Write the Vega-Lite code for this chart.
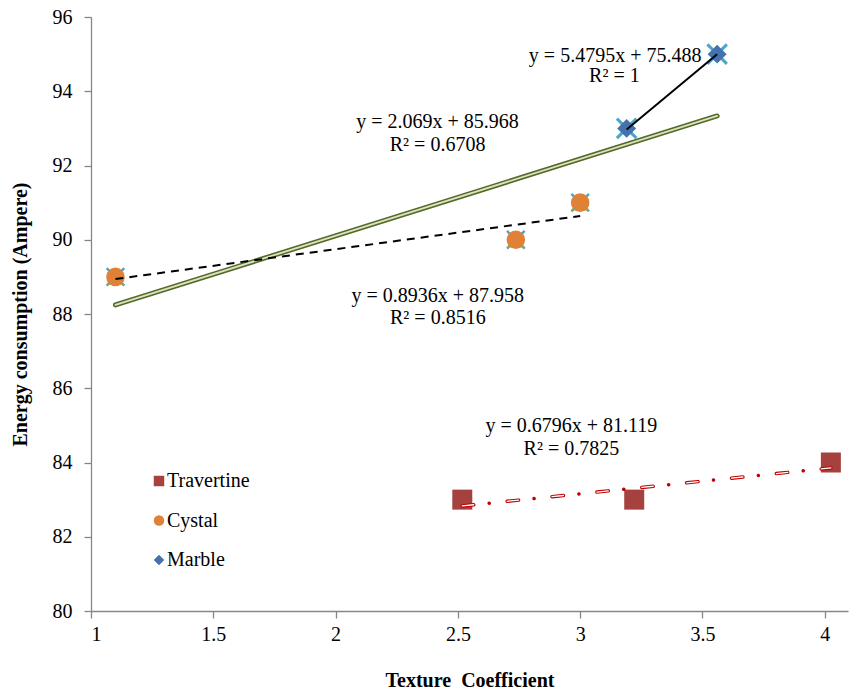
{
  "$schema": "https://vega.github.io/schema/vega-lite/v6.json",
  "width": 757,
  "height": 594,
  "autosize": {"type": "none"},
  "padding": {"left": 91, "top": 17, "right": 13, "bottom": 80},
  "background": "white",
  "config": {
    "view": {"stroke": null},
    "font": "Liberation Serif",
    "style": {
      "guide-label": {"font": "Liberation Serif", "fontSize": 20, "fill": "#000000"},
      "guide-title": {"font": "Liberation Serif", "fontSize": 20, "fontWeight": "bold", "fill": "#000000"}
    },
    "axis": {
      "grid": false,
      "domainColor": "#878787",
      "domainWidth": 1.3,
      "tickColor": "#878787",
      "tickWidth": 1.3,
      "tickSize": 7,
      "labelFont": "Liberation Serif",
      "labelFontSize": 20,
      "labelColor": "#000000",
      "titleFont": "Liberation Serif",
      "titleFontSize": 20,
      "titleFontWeight": "bold",
      "titleColor": "#000000"
    },
    "legend": {
      "labelFont": "Liberation Serif",
      "labelFontSize": 20,
      "labelColor": "#000000"
    }
  },
  "datasets": {
    "points": [
      {"series": "Travertine", "x": 2.518, "y": 83},
      {"series": "Travertine", "x": 3.221, "y": 83},
      {"series": "Travertine", "x": 4.025, "y": 84},
      {"series": "Cystal", "x": 1.1, "y": 89},
      {"series": "Cystal", "x": 2.737, "y": 90},
      {"series": "Cystal", "x": 3.0, "y": 91},
      {"series": "Marble", "x": 3.19, "y": 93},
      {"series": "Marble", "x": 3.56, "y": 95}
    ],
    "hidden": [
      {"kind": "xc", "x": 1.1, "y": 89},
      {"kind": "xc", "x": 2.737, "y": 90},
      {"kind": "xc", "x": 3.0, "y": 91},
      {"kind": "xm", "x": 3.19, "y": 93},
      {"kind": "xm", "x": 3.56, "y": 95},
      {"kind": "tri", "x": 1.1, "y": 89},
      {"kind": "tri", "x": 2.737, "y": 90},
      {"kind": "tri", "x": 3.0, "y": 91}
    ],
    "trends": [
      {"id": "overall", "x": 1.1, "y": 88.244},
      {"id": "overall", "x": 3.56, "y": 93.334},
      {"id": "cystal", "x": 1.1, "y": 88.941},
      {"id": "cystal", "x": 3.0, "y": 90.639},
      {"id": "marble", "x": 3.19, "y": 92.968},
      {"id": "marble", "x": 3.56, "y": 94.995},
      {"id": "travertine", "x": 2.518, "y": 82.83},
      {"id": "travertine", "x": 4.025, "y": 83.854}
    ],
    "labels": [
      {"text": "y = 5.4795x + 75.488", "x": 3.143, "y": 94.96},
      {"text": "R² = 1", "x": 3.14, "y": 94.42},
      {"text": "y = 2.069x + 85.968", "x": 2.417, "y": 93.16},
      {"text": "R² = 0.6708", "x": 2.417, "y": 92.56},
      {"text": "y = 0.8936x + 87.958", "x": 2.418, "y": 88.485},
      {"text": "R² = 0.8516", "x": 2.418, "y": 87.89},
      {"text": "y = 0.6796x + 81.119", "x": 2.964, "y": 84.99},
      {"text": "R² = 0.7825", "x": 2.964, "y": 84.355}
    ]
  },
  "encoding": {
    "x": {
      "field": "x",
      "type": "quantitative",
      "scale": {"domain": [1, 4.095], "nice": false, "zero": false},
      "axis": {
        "values": [1, 1.5, 2, 2.5, 3, 3.5, 4],
        "format": "~g",
        "labelFont": "Liberation Serif",
        "labelFontSize": 20,
        "labelPadding": 6,
        "title": "Texture \u00a0Coefficient",
        "titlePadding": 26
      }
    },
    "y": {
      "field": "y",
      "type": "quantitative",
      "scale": {"domain": [80, 96], "nice": false, "zero": false},
      "axis": {
        "values": [80, 82, 84, 86, 88, 90, 92, 94, 96],
        "format": "d",
        "labelFont": "Liberation Serif",
        "labelFontSize": 20,
        "labelPadding": 12,
        "title": "Energy consumption (Ampere)",
        "titlePadding": 22
      }
    }
  },
  "layer": [
    {
      "data": {"name": "hidden"},
      "transform": [{"filter": "datum.kind == 'xc'"}],
      "mark": {
        "type": "point",
        "shape": "M-1,-1L1,1M-1,1L1,-1",
        "filled": false,
        "stroke": "#4BA6CC",
        "strokeWidth": 2.5,
        "size": 310,
        "opacity": 1
      }
    },
    {
      "data": {"name": "hidden"},
      "transform": [{"filter": "datum.kind == 'xm'"}],
      "mark": {
        "type": "point",
        "shape": "M-1,-1L1,1M-1,1L1,-1",
        "filled": false,
        "stroke": "#4BA6CC",
        "strokeWidth": 3,
        "size": 380,
        "opacity": 1
      }
    },
    {
      "data": {"name": "hidden"},
      "transform": [{"filter": "datum.kind == 'tri'"}],
      "mark": {
        "type": "point",
        "shape": "triangle-up",
        "filled": true,
        "color": "#8AAE4F",
        "size": 324,
        "opacity": 1
      }
    },
    {
      "data": {"name": "points"},
      "transform": [{"filter": "datum.series == 'Travertine'"}],
      "mark": {"type": "point", "filled": true, "opacity": 1, "strokeWidth": 0, "size": 400},
      "encoding": {
        "color": {
          "field": "series",
          "type": "nominal",
          "scale": {"domain": ["Travertine", "Cystal", "Marble"], "range": ["#A5423F", "#DF8238", "#4472AE"]},
          "legend": {
            "title": null,
            "orient": "none",
            "legendX": 58,
            "legendY": 454,
            "symbolSize": 110,
            "symbolOpacity": 1,
            "rowPadding": 19.5,
            "labelOffset": -2,
            "labelFont": "Liberation Serif",
            "labelFontSize": 20
          }
        },
        "shape": {
          "field": "series",
          "type": "nominal",
          "scale": {"domain": ["Travertine", "Cystal", "Marble"], "range": ["square", "circle", "diamond"]},
          "legend": {
            "title": null,
            "orient": "none",
            "legendX": 58,
            "legendY": 454,
            "symbolSize": 110,
            "symbolOpacity": 1,
            "rowPadding": 19.5,
            "labelOffset": -2,
            "labelFont": "Liberation Serif",
            "labelFontSize": 20
          }
        }
      }
    },
    {
      "data": {"name": "points"},
      "transform": [{"filter": "datum.series == 'Cystal'"}],
      "mark": {"type": "point", "filled": true, "opacity": 1, "strokeWidth": 0, "size": 346},
      "encoding": {
        "color": {"field": "series", "type": "nominal"},
        "shape": {"field": "series", "type": "nominal"}
      }
    },
    {
      "data": {"name": "points"},
      "transform": [{"filter": "datum.series == 'Marble'"}],
      "mark": {"type": "point", "filled": true, "opacity": 1, "strokeWidth": 0, "size": 360},
      "encoding": {
        "color": {"field": "series", "type": "nominal"},
        "shape": {"field": "series", "type": "nominal"}
      }
    },
    {
      "data": {"name": "trends"},
      "transform": [{"filter": "datum.id == 'overall'"}],
      "mark": {"type": "line", "color": "#56692A", "strokeWidth": 5, "strokeCap": "round"}
    },
    {
      "data": {"name": "trends"},
      "transform": [{"filter": "datum.id == 'overall'"}],
      "mark": {"type": "line", "color": "#D9E5BF", "strokeWidth": 1.8, "strokeCap": "round"}
    },
    {
      "data": {"name": "trends"},
      "transform": [{"filter": "datum.id == 'cystal'"}],
      "mark": {"type": "line", "color": "#000000", "strokeWidth": 2, "strokeDash": [8, 6]}
    },
    {
      "data": {"name": "trends"},
      "transform": [{"filter": "datum.id == 'marble'"}],
      "mark": {"type": "line", "color": "#000000", "strokeWidth": 2}
    },
    {
      "data": {"name": "trends"},
      "transform": [{"filter": "datum.id == 'travertine'"}],
      "mark": {"type": "line", "color": "#C00000", "strokeWidth": 3.5, "strokeCap": "round", "strokeDash": [11.5, 15.5, 0.1, 18]}
    },
    {
      "data": {"name": "trends"},
      "transform": [{"filter": "datum.id == 'travertine'"}],
      "mark": {"type": "line", "color": "#FFFFFF", "strokeWidth": 1.3, "strokeCap": "round", "strokeDash": [11.5, 33.6]}
    },
    {
      "data": {"name": "labels"},
      "mark": {"type": "text", "font": "Liberation Serif", "fontSize": 20, "align": "center", "baseline": "middle", "color": "#000000"},
      "encoding": {"text": {"field": "text", "type": "nominal"}}
    }
  ]
}
